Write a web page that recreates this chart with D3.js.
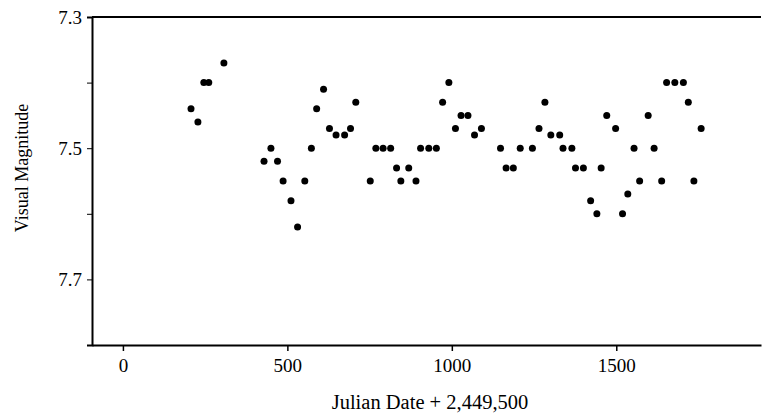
<!DOCTYPE html>
<html>
<head>
<meta charset="utf-8">
<script src="https://cdn.jsdelivr.net/npm/d3@7"></script>
<style>
  body { margin: 0; background: #fff; }
  text { font-family: "Liberation Serif", "Times New Roman", serif; fill: #000; }
</style>
</head>
<body>
<div id="chart-area"></div>
<script>
// Observation data (days after JD 2,449,500 and visual magnitude)
const days = [207, 228, 246, 261, 307, 429, 450, 470, 487, 511, 531, 553, 573, 589, 610, 628, 648,
  674, 692, 708, 752, 769, 791, 814, 832, 845, 869, 891, 905, 930, 953, 972, 991, 1011, 1028, 1049,
  1069, 1090, 1148, 1165, 1187, 1208, 1245, 1265, 1283, 1301, 1328, 1338, 1365, 1376, 1400, 1422,
  1441, 1454, 1471, 1498, 1519, 1535, 1554, 1571, 1597, 1615, 1638, 1653, 1678, 1704, 1719, 1736, 1758];
const mags = [7.44, 7.46, 7.40, 7.40, 7.37, 7.52, 7.50, 7.52, 7.55, 7.58, 7.62, 7.55, 7.50, 7.44, 7.41, 7.47, 7.48,
  7.48, 7.47, 7.43, 7.55, 7.50, 7.50, 7.50, 7.53, 7.55, 7.53, 7.55, 7.50, 7.50, 7.50, 7.43, 7.40, 7.47, 7.45, 7.45,
  7.48, 7.47, 7.50, 7.53, 7.53, 7.50, 7.50, 7.47, 7.43, 7.48, 7.48, 7.50, 7.50, 7.53, 7.53, 7.58,
  7.60, 7.53, 7.45, 7.47, 7.60, 7.57, 7.50, 7.55, 7.45, 7.50, 7.55, 7.40, 7.40, 7.40, 7.43, 7.55, 7.47];

const xTicks = [0, 500, 1000, 1500];
const yTicks = [7.3, 7.4, 7.5, 7.6, 7.7, 7.8];
const yLabels = [7.3, 7.5, 7.7];

const width = 762, height = 419;
const margin = { top: 17, right: 1, bottom: 74, left: 92 };

const svg = d3.select("#chart-area").append("svg")
  .attr("width", width)
  .attr("height", height);

const x = d3.scaleLinear().domain([-94, 1940]).range([margin.left, width - margin.right]);
const y = d3.scaleLinear().domain([7.3, 7.8]).range([margin.top, height - margin.bottom]);

// top frame line (no right side in the original)
svg.append("line")
  .attr("x1", margin.left).attr("x2", width - margin.right)
  .attr("y1", y(7.3)).attr("y2", y(7.3))
  .attr("stroke", "#000").attr("stroke-width", 2);

// Y axis
const yAxis = svg.append("g")
  .attr("transform", `translate(${margin.left},0)`)
  .call(d3.axisLeft(y).tickValues(yTicks).tickSize(5)
    .tickFormat(d => yLabels.some(v => Math.abs(v - d) < 1e-9) ? d3.format(".1f")(d) : ""));
yAxis.select(".domain").attr("stroke-width", 2);
yAxis.selectAll("text").attr("font-size", 19).attr("dx", "-2");

// X axis
const xAxis = svg.append("g")
  .attr("transform", `translate(0,${y(7.8)})`)
  .call(d3.axisBottom(x).tickValues(xTicks).tickSize(6).tickSizeOuter(0).tickFormat(d3.format("d")));
xAxis.select(".domain").attr("stroke-width", 2);
xAxis.selectAll("text").attr("font-size", 19).attr("y", 27).attr("dy", 0);
xAxis.selectAll(".tick line").attr("stroke-width", 1.5);

// points
svg.append("g").selectAll("circle")
  .data(days.map((d, i) => [d, mags[i]]))
  .join("circle")
  .attr("cx", d => x(d[0]))
  .attr("cy", d => y(d[1]))
  .attr("r", 3.5)
  .attr("fill", "#000");

// axis titles
svg.append("text")
  .attr("x", 430)
  .attr("y", 409)
  .attr("text-anchor", "middle")
  .attr("font-size", 20.5)
  .text("Julian Date + 2,449,500");

svg.append("text")
  .attr("transform", `translate(28,168) rotate(-90)`)
  .attr("text-anchor", "middle")
  .attr("font-size", 18)
  .text("Visual Magnitude");
</script>
</body>
</html>
